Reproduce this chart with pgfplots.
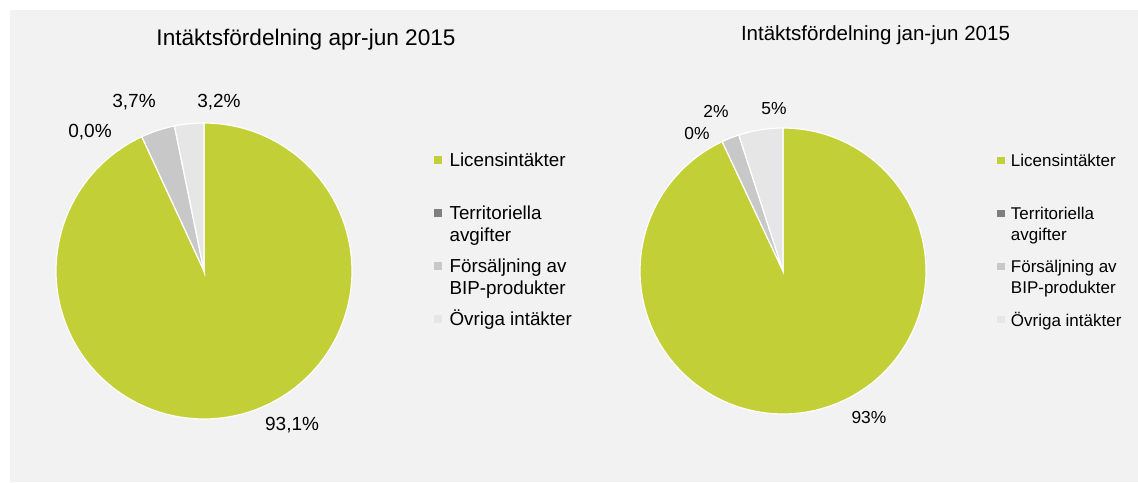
\documentclass[border=0pt]{standalone}
\usepackage{fontspec}
\setmainfont{Liberation Sans}
\usepackage{pgfplots}
\pgfplotsset{compat=1.18}
\definecolor{cgreen}{HTML}{C3CF37}
\definecolor{cterr}{HTML}{7F7F7F}
\definecolor{cfors}{HTML}{C8C8C8}
\definecolor{covr}{HTML}{E6E6E6}
\definecolor{cbg}{HTML}{F2F2F2}
% #1 cumulative start (percent), #2 value (percent), #3 colour
\newcommand{\pieslice}[3]{%
  \addplot[fill=#3, draw=white, line width=0.6pt, forget plot,
    domain=90-3.6*(#1+#2):90-3.6*(#1), samples=150]
    ({cos(x)},{sin(x)}) -- (axis cs:0,0) -- cycle;
}
\pgfplotsset{
  pie axis/.style={hide axis, clip=false, anchor=center,
    xmin=-1, xmax=1, ymin=-1, ymax=1,
    legend style={anchor=north west, draw=none, fill=none, inner sep=0pt,
      nodes={inner sep=0pt, text height=6pt, text depth=20.5pt},
      cells={anchor=base west}},
  },
  left legend/.style={legend image code/.code={\path[##1, draw=none] (0pt,1.4pt) rectangle (3.8pt,5.2pt); \path (7.4pt,0pt);}},
  right legend/.style={legend image code/.code={\path[##1, draw=none] (0pt,1.3pt) rectangle (3.6pt,4.9pt); \path (6.6pt,0pt);}},
}
\begin{document}
\begin{tikzpicture}[x=1pt,y=1pt]
\path[use as bounding box] (0,0) rectangle (569,241);
\fill[white] (0,0) rectangle (569,241);
\fill[cbg] (5,0) rectangle (569,236);
\node[font=\fontsize{11.3}{13}\selectfont] at (153,221) {Intäktsfördelning apr-jun 2015};
\node[font=\fontsize{10.25}{12}\selectfont] at (437.75,223.5) {Intäktsfördelning jan-jun 2015};

\begin{axis}[pie axis, left legend, x=74pt, y=74pt, at={(102pt,105.5pt)},
  legend style={at={(1.277,0.895)}, font=\fontsize{9.4}{11}\selectfont}]
  \addlegendimage{fill=cgreen}
  \addlegendentry{Licensintäkter}
  \addlegendimage{fill=cterr}
  \addlegendentry{\parbox[t]{3cm}{Territoriella\\avgifter}}
  \addlegendimage{fill=cfors}
  \addlegendentry{\parbox[t]{3cm}{Försäljning av\\BIP-produkter}}
  \addlegendimage{fill=covr}
  \addlegendentry{Övriga intäkter}
  % Licensintäkter 93.1, Territoriella avgifter 0.0, Försäljning 3.7, Övriga 3.2
  \pieslice{0}{93.1}{cgreen}
  \pieslice{93.1}{3.7}{cfors}
  \pieslice{96.8}{3.2}{covr}
  \node[font=\fontsize{9.5}{11}\selectfont] at (axis cs:-0.473,1.144) {3,7\%};
  \node[font=\fontsize{9.5}{11}\selectfont] at (axis cs:0.101,1.144) {3,2\%};
  \node[font=\fontsize{9.5}{11}\selectfont] at (axis cs:-0.770,0.941) {0,0\%};
  \node[font=\fontsize{9.5}{11}\selectfont] at (axis cs:0.595,-1.041) {93,1\%};
\end{axis}

\begin{axis}[pie axis, right legend, x=71.5pt, y=71.5pt, at={(391.5pt,105.5pt)},
  legend style={at={(1.248,0.907)}, font=\fontsize{8.5}{10}\selectfont}]
  \addlegendimage{fill=cgreen}
  \addlegendentry{Licensintäkter}
  \addlegendimage{fill=cterr}
  \addlegendentry{\parbox[t]{3cm}{Territoriella\\avgifter}}
  \addlegendimage{fill=cfors}
  \addlegendentry{\parbox[t]{3cm}{Försäljning av\\BIP-produkter}}
  \addlegendimage{fill=covr}
  \addlegendentry{Övriga intäkter}
  % Licensintäkter 93, Territoriella avgifter 0, Försäljning 2, Övriga 5
  \pieslice{0}{93}{cgreen}
  \pieslice{93}{2}{cfors}
  \pieslice{95}{5}{covr}
  \node[font=\fontsize{8.7}{10}\selectfont] at (axis cs:-0.469,1.114) {2\%};
  \node[font=\fontsize{8.7}{10}\selectfont] at (axis cs:-0.063,1.138) {5\%};
  \node[font=\fontsize{8.7}{10}\selectfont] at (axis cs:-0.601,0.958) {0\%};
  \node[font=\fontsize{8.7}{10}\selectfont] at (axis cs:0.601,-1.028) {93\%};
\end{axis}
\end{tikzpicture}
\end{document}
